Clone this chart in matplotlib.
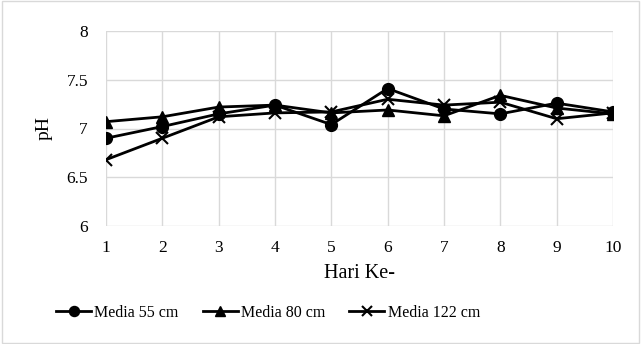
import matplotlib
matplotlib.use("Agg")
import matplotlib.pyplot as plt
from matplotlib.patches import Rectangle

plt.rcParams['font.family'] = ['Liberation Serif', 'DejaVu Serif']

days = [1, 2, 3, 4, 5, 6, 7, 8, 9, 10]
media_55 = [6.90, 7.02, 7.15, 7.24, 7.04, 7.41, 7.20, 7.15, 7.26, 7.17]
media_80 = [7.07, 7.12, 7.22, 7.24, 7.16, 7.19, 7.13, 7.34, 7.21, 7.15]
media_122 = [6.68, 6.90, 7.12, 7.16, 7.17, 7.30, 7.24, 7.27, 7.10, 7.16]
yticks = [6, 6.5, 7, 7.5, 8]
ytick_labels = ["6", "6.5", "7", "7.5", "8"]

W, H = 641, 344
fig = plt.figure(figsize=(W / 100, H / 100), dpi=100)
fig.patches.append(Rectangle((0.003, 0.003), 0.994, 0.994, transform=fig.transFigure,
                             fill=False, edgecolor='#d9d9d9', linewidth=1))

ax = fig.add_axes([106 / W, 1 - 226 / H, (613 - 106) / W, (226 - 31) / H])
ax.plot(days, media_55, color='black', lw=2, marker='o', ms=8.5, label='Media 55 cm')
ax.plot(days, media_80, color='black', lw=2, marker='^', ms=8.5, label='Media 80 cm')
ax.plot(days, media_122, color='black', lw=2, marker='x', ms=8, mew=1.5, label='Media 122 cm')

ax.set_xlim(1, 10)
ax.set_ylim(6, 8)
ax.set_xticks(days)
ax.set_yticks(yticks)
ax.set_yticklabels(ytick_labels)
ax.grid(True, color='#d9d9d9', lw=1)
ax.set_axisbelow(True)
for s in ax.spines.values():
    s.set_visible(False)
ax.tick_params(length=0, labelsize=12.5)
ax.tick_params(axis='y', pad=13)
ax.tick_params(axis='x', pad=10)
ax.set_xlabel('Hari Ke-', fontsize=14.5, labelpad=6)
ax.set_ylabel('pH', fontsize=14, labelpad=10)

fig.legend(loc='center', bbox_to_anchor=(268 / W, 1 - 313 / H), ncol=3, frameon=False,
           fontsize=11.5, handlelength=2.2, columnspacing=1.5, handletextpad=0.2,
           markerscale=0.85)

fig.savefig('out.png', dpi=100)
